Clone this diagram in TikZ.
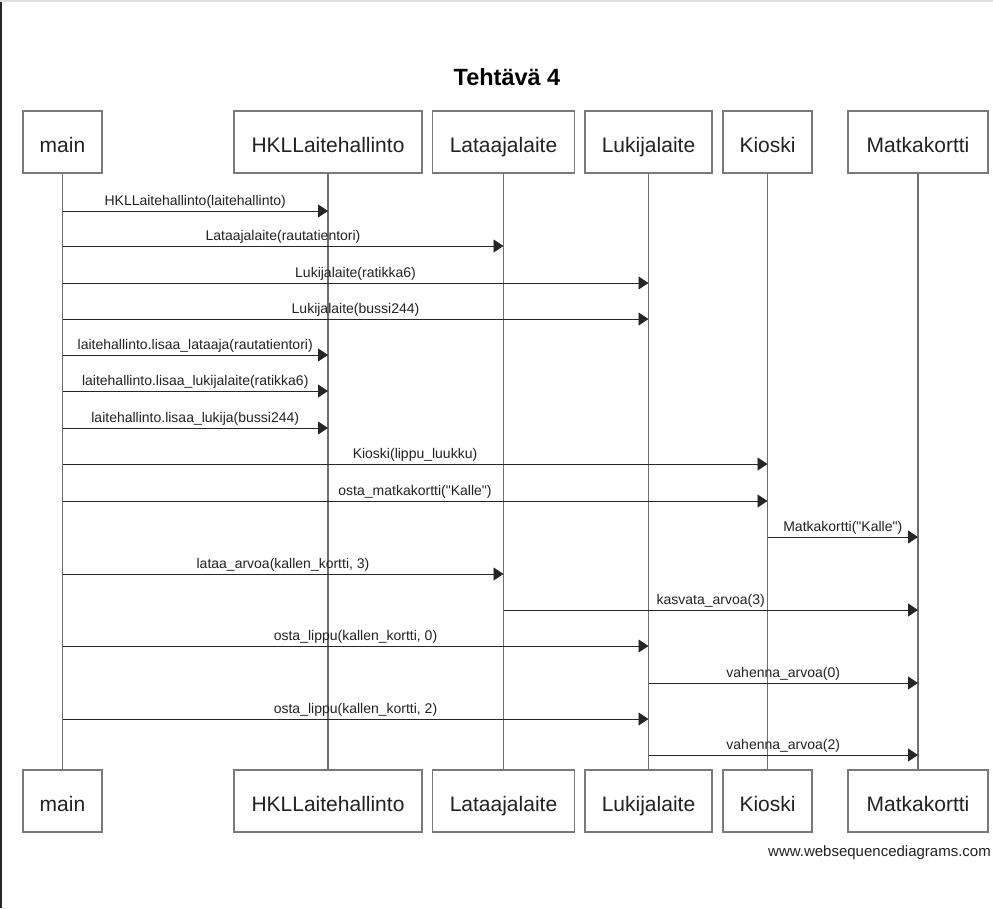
\documentclass[tikz,border=0pt]{standalone}
\usepackage{fontspec}
\setmainfont{Liberation Sans}[Ligatures=TeXOff]
\usetikzlibrary{arrows.meta}
\definecolor{boxline}{HTML}{7A7A7A}
\definecolor{lifeline}{HTML}{6E6E6E}
\definecolor{txt}{HTML}{222222}
\newcommand\seqmsg[4]{%
  \draw[msgline] (t-#1 |- 0,#3) -- node[msglabel]{#4} (t-#2 |- 0,#3);}
\begin{document}
\begin{tikzpicture}[x=1pt,y=-1pt,
  actor/.style={draw=boxline,line width=1.3pt,fill=white,minimum height=62pt,inner sep=0pt,
    text height=22pt,text depth=2pt,
    text=txt,font=\fontsize{21}{24}\selectfont},
  lifel/.style={draw=lifeline,line width=1.2pt},
  msgline/.style={draw=black!85,line width=0.9pt,-{Triangle[length=10pt,width=13pt]}},
  msglabel/.style={above=1pt,inner sep=1pt,text=txt,font=\fontsize{14}{16}\selectfont},
]
\useasboundingbox (0,0) rectangle (993,908);
\fill[white] (0,0) rectangle (993,908);
\draw[black!12,line width=1.5pt] (0,0.75) -- (993,0.75);
\draw[black!85,line width=1.8pt] (0.9,2) -- (0.9,908);
\node[font=\bfseries\fontsize{23.5}{27}\selectfont,text=black] (title) at (507,77) {Tehtävä 4};
% top actors
\node[actor,minimum width=79pt]  (t-main) at (62.5,142) {main};
\node[actor,minimum width=188pt] (t-hkl)  at (328,142) {HKLLaitehallinto};
\node[actor,minimum width=142pt] (t-lat)  at (503.5,142) {Lataajalaite};
\node[actor,minimum width=127pt] (t-luk)  at (648.5,142) {Lukijalaite};
\node[actor,minimum width=89pt]  (t-kio)  at (767.5,142) {Kioski};
\node[actor,minimum width=140pt] (t-mat)  at (918,142) {Matkakortti};
% bottom actors
\node[actor,minimum width=79pt]  (b-main) at (62.5,801) {main};
\node[actor,minimum width=188pt] (b-hkl)  at (328,801) {HKLLaitehallinto};
\node[actor,minimum width=142pt] (b-lat)  at (503.5,801) {Lataajalaite};
\node[actor,minimum width=127pt] (b-luk)  at (648.5,801) {Lukijalaite};
\node[actor,minimum width=89pt]  (b-kio)  at (767.5,801) {Kioski};
\node[actor,minimum width=140pt] (b-mat)  at (918,801) {Matkakortti};
% lifelines
\foreach \a in {main,hkl,lat,luk,kio,mat}{
  \draw[lifel] (t-\a.south) -- (b-\a.north);
}
% messages
\seqmsg{main}{hkl}{211}{HKLLaitehallinto(laitehallinto)}
\seqmsg{main}{lat}{246}{Lataajalaite(rautatientori)}
\seqmsg{main}{luk}{283}{Lukijalaite(ratikka6)}
\seqmsg{main}{luk}{319}{Lukijalaite(bussi244)}
\seqmsg{main}{hkl}{355}{laitehallinto.lisaa\_lataaja(rautatientori)}
\seqmsg{main}{hkl}{391}{laitehallinto.lisaa\_lukijalaite(ratikka6)}
\seqmsg{main}{hkl}{428}{laitehallinto.lisaa\_lukija(bussi244)}
\seqmsg{main}{kio}{464}{Kioski(lippu\_luukku)}
\seqmsg{main}{kio}{501}{osta\_matkakortti("Kalle")}
\seqmsg{kio}{mat}{537}{Matkakortti("Kalle")}
\seqmsg{main}{lat}{574}{lataa\_arvoa(kallen\_kortti, 3)}
\seqmsg{lat}{mat}{610}{kasvata\_arvoa(3)}
\seqmsg{main}{luk}{646}{osta\_lippu(kallen\_kortti, 0)}
\seqmsg{luk}{mat}{683}{vahenna\_arvoa(0)}
\seqmsg{main}{luk}{719}{osta\_lippu(kallen\_kortti, 2)}
\seqmsg{luk}{mat}{755}{vahenna\_arvoa(2)}
\node[anchor=east,inner sep=0pt,text=txt,font=\fontsize{15}{18}\selectfont] (credit) at (991,853) {www.websequencediagrams.com};
\end{tikzpicture}
\end{document}
